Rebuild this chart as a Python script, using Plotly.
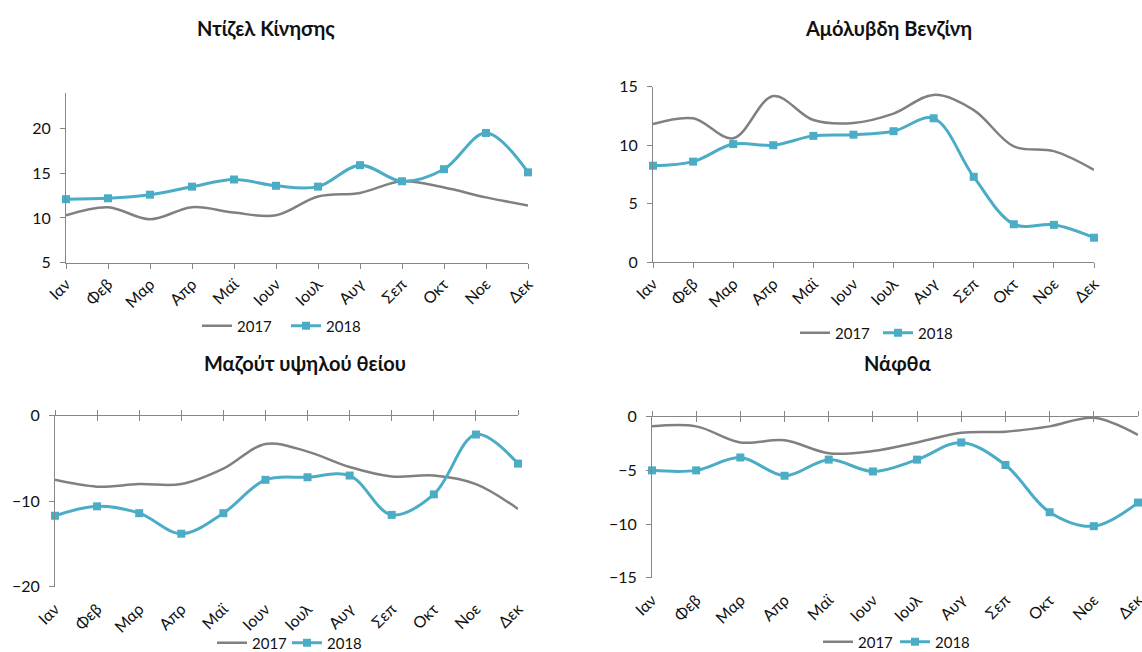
import plotly.graph_objects as go

months = ["Ιαν", "Φεβ", "Μαρ", "Απρ", "Μαϊ", "Ιουν", "Ιουλ", "Αυγ", "Σεπ", "Οκτ", "Νοε", "Δεκ"]
years = ["2017", "2018"]

titles = ["Ντίζελ Κίνησης", "Αμόλυβδη Βενζίνη", "Μαζούτ υψηλού θείου", "Νάφθα"]

diesel_2017 = [10.3, 11.2, 9.85, 11.2, 10.6, 10.3, 12.4, 12.8, 14.1, 13.4, 12.3, 11.4]
diesel_2018 = [12.1, 12.2, 12.6, 13.5, 14.3, 13.6, 13.5, 15.9, 14.1, 15.45, 19.5, 15.1]

petrol_2017 = [11.8, 12.3, 10.6, 14.2, 12.15, 11.9, 12.7, 14.3, 13.0, 9.9, 9.5, 7.9]
petrol_2018 = [8.25, 8.6, 10.1, 10.0, 10.8, 10.9, 11.2, 12.3, 7.3, 3.25, 3.2, 2.1]

fueloil_2017 = [-7.5, -8.3, -8.0, -8.0, -6.2, -3.3, -4.2, -6.0, -7.1, -7.0, -8.0, -10.9]
fueloil_2018 = [-11.7, -10.6, -11.4, -13.8, -11.4, -7.5, -7.2, -7.0, -11.6, -9.2, -2.2, -5.6]

naphtha_2017 = [-0.9, -0.9, -2.4, -2.2, -3.4, -3.2, -2.4, -1.5, -1.4, -0.9, -0.1, -1.7]
naphtha_2018 = [-5.0, -5.0, -3.8, -5.5, -4.0, -5.1, -4.0, -2.4, -4.5, -8.9, -10.2, -8.0]

y_ranges = [[5, 24], [0, 15], [-20, 0], [-15, 0]]
y_ticks = [[5, 10, 15, 20], [0, 5, 10, 15], [-20, -10, 0], [-15, -10, -5, 0]]

series = [(diesel_2017, diesel_2018), (petrol_2017, petrol_2018),
          (fueloil_2017, fueloil_2018), (naphtha_2017, naphtha_2018)]

W, H = 1142, 652
GRAY = "#808080"
AQUA = "#4BACC6"
AXIS = "#868686"
FONT = "Lato, 'Noto Sans', sans-serif"
TXT = "#111111"
TICK_SIZE = 16
LEG_SIZE = 15

# pixel boxes (left, right, top, bottom) of plot areas
boxes = [(66, 528, 92.7, 262.7), (653, 1094, 86.7, 262.3),
         (55, 518, 415.7, 586.7), (652, 1138, 416.7, 577.7)]
title_pos = [(266, 28), (888, 28), (305, 363), (897, 363)]
legend_pos = [(286, 326), (878, 333), (287, 643), (895, 642)]
legend_entry = [44, 38, 30, 32]

idx = list(range(12))

fig = go.Figure()

for i, (s17, s18) in enumerate(series):
    n = i + 1
    xa = "x" if n == 1 else f"x{n}"
    ya = "y" if n == 1 else f"y{n}"
    leg = "legend" if n == 1 else f"legend{n}"
    # for the lower charts, 2018 lives on the overlaid bottom (label) axis
    xa18 = xa if n <= 2 else f"x{n + 2}"
    fig.add_trace(go.Scatter(x=idx, y=s17, name=years[0], mode="lines",
                             line=dict(color=GRAY, width=2.5, shape="spline", smoothing=1.0),
                             xaxis=xa, yaxis=ya, legend=leg, cliponaxis=False,
                             hoverinfo="skip"))
    fig.add_trace(go.Scatter(x=idx, y=s18, name=years[1], mode="lines+markers",
                             line=dict(color=AQUA, width=3, shape="spline", smoothing=1.0),
                             marker=dict(symbol="square", size=8, color=AQUA),
                             xaxis=xa18, yaxis=ya, legend=leg, cliponaxis=False,
                             hoverinfo="skip"))
    if n > 2:
        # invisible copy so the overlaid "inside ticks" axis gets drawn
        fig.add_trace(go.Scatter(x=idx, y=s17, mode="lines", opacity=0,
                                 line=dict(width=0.1, color=GRAY), showlegend=False,
                                 xaxis=f"x{n + 4}", yaxis=ya, hoverinfo="skip"))

layout = dict(width=W, height=H, margin=dict(l=0, r=0, t=0, b=0, autoexpand=False),
              paper_bgcolor="white", plot_bgcolor="white", showlegend=True,
              font=dict(family=FONT, size=TICK_SIZE, color=TXT))

annotations = []
for i, (l, r, t, b) in enumerate(boxes):
    n = i + 1
    sfx = "" if n == 1 else str(n)
    dom_x = [l / W, r / W]
    dom_y = [1 - b / H, 1 - t / H]
    yid = "y" if n == 1 else f"y{n}"
    xid = "x" if n == 1 else f"x{n}"
    common_x = dict(domain=dom_x, range=[0, 11], tickmode="array", tickvals=idx,
                    ticktext=months, showgrid=False, zeroline=False, fixedrange=True,
                    automargin=False, ticklabeloverflow="allow")
    if n <= 2:
        layout["xaxis" + sfx] = dict(common_x, anchor=yid, showline=True, linecolor=AXIS,
                                     linewidth=1, ticks="outside", ticklen=5, tickcolor=AXIS,
                                     tickangle=-45, tickfont=dict(size=TICK_SIZE, color=TXT))
    else:
        # axis line at value 0 (top of the plot), ticks crossing it
        layout["xaxis" + sfx] = dict(common_x, anchor=yid, side="top", showline=True,
                                     linecolor=AXIS, linewidth=1, ticks="outside", ticklen=5,
                                     tickcolor=AXIS, showticklabels=False)
        lab = n + 2   # 5, 6
        inn = n + 4   # 7, 8
        layout[f"xaxis{lab}"] = dict(common_x, anchor=yid, overlaying=xid, side="bottom",
                                     showline=False, ticks="", ticklabelstandoff=9,
                                     tickangle=-45, tickfont=dict(size=TICK_SIZE, color=TXT))
        layout[f"xaxis{inn}"] = dict(common_x, anchor=yid, overlaying=xid, side="top",
                                     showline=False, ticks="inside", ticklen=5,
                                     tickcolor=AXIS, showticklabels=False)
    layout["yaxis" + sfx] = dict(domain=dom_y, anchor=xid, range=y_ranges[i],
                                 tickmode="array", tickvals=y_ticks[i], showgrid=False,
                                 zeroline=False, showline=True, linecolor=AXIS, linewidth=1,
                                 ticks="outside", ticklen=5, tickcolor=AXIS,
                                 ticklabelstandoff=6,
                                 tickfont=dict(size=TICK_SIZE, color=TXT), fixedrange=True,
                                 automargin=False)
    lx, ly = legend_pos[i]
    layout["legend" + sfx] = dict(orientation="h", x=lx / W, y=1 - ly / H,
                                  xanchor="center", yanchor="middle",
                                  font=dict(size=LEG_SIZE, color=TXT), bgcolor="rgba(0,0,0,0)",
                                  itemwidth=30, entrywidth=legend_entry[i],
                                  entrywidthmode="pixels", tracegroupgap=0)
    tx, ty = title_pos[i]
    annotations.append(dict(text="<b>" + titles[i] + "</b>", x=tx / W, y=1 - ty / H,
                            xref="paper", yref="paper", xanchor="center", yanchor="middle",
                            showarrow=False, font=dict(size=20, color=TXT, family=FONT)))

layout["annotations"] = annotations
fig.update_layout(**layout)
fig.write_html("out.html", config={"displayModeBar": False},
               post_script="document.body.style.margin='0';document.body.style.overflow='hidden';")
